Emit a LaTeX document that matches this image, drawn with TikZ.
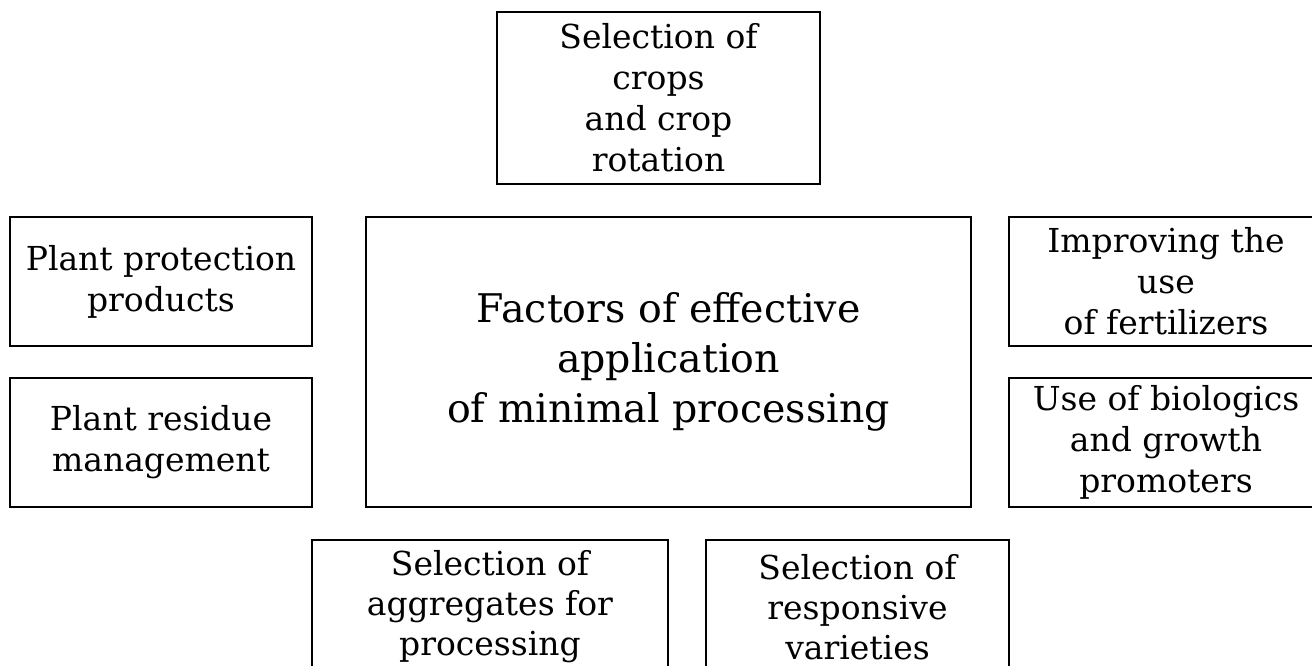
\documentclass[tikz,border=0pt]{standalone}
\usepackage{fontspec}
\setmainfont{DejaVu Serif}
\newfontfamily\fnorm{DejaVu Serif}
\begin{document}
\begin{tikzpicture}[x=1pt,y=1pt,
  box/.style={draw=black, line width=2.8pt, inner sep=0pt, align=center, text=black},
  small/.style={box, font=\fnorm\fontsize{33}{41}\selectfont},
  big/.style={box, font=\fnorm\fontsize{39.5}{50}\selectfont},
  lower/.style={box, font=\fnorm\fontsize{33}{40}\selectfont}]
\useasboundingbox (0,0) rectangle (1312,665);
\clip (0,0) rectangle (1312,665);
\fill[white] (0,0) rectangle (1312,665);
\node[small, minimum width=323pt, minimum height=172pt] (top) at (658.5,567) {Selection of\\crops\\and crop\\rotation};
\node[small, minimum width=302pt, minimum height=129pt] (lt) at (161,383.5) {Plant protection\\products};
\node[small, minimum width=302pt, minimum height=129pt] (lb) at (161,222.5) {Plant residue\\management};
\node[big, minimum width=605pt, minimum height=290pt] (center) at (668.5,303) {Factors of effective\\application\\of minimal processing};
\node[small, minimum width=314pt, minimum height=129pt] (rt) at (1166,383.5) {Improving the\\use\\of fertilizers};
\node[small, minimum width=314pt, minimum height=129pt] (rb) at (1166,222.5) {Use of biologics\\and growth\\promoters};
\node[lower, minimum width=356pt, minimum height=134pt] (bl) at (490,58) {Selection of\\aggregates for\\processing};
\node[lower, minimum width=303pt, minimum height=134pt] (br) at (857.5,58) {Selection of\\responsive\\varieties};
\end{tikzpicture}
\end{document}
